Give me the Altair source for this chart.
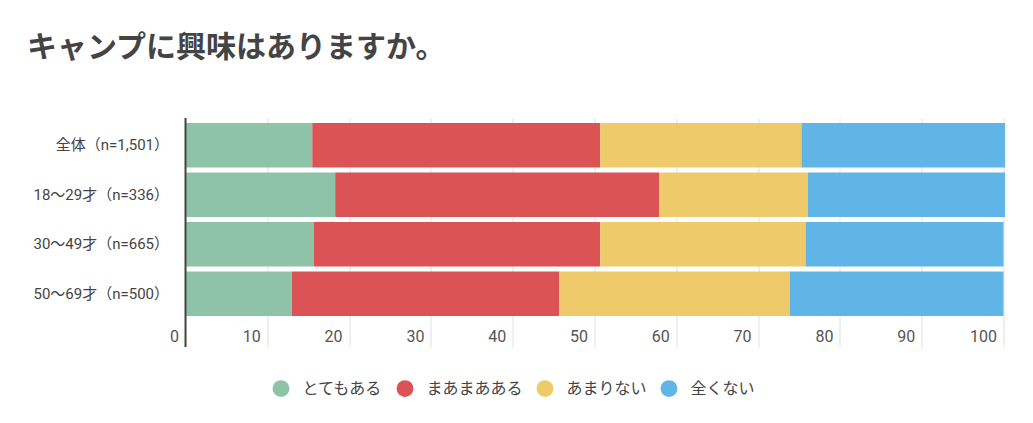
import altair as alt
import pandas as pd

title_text = "キャンプに興味はありますか。"
groups = ["全体（n=1,501）", "18～29才（n=336）", "30～49才（n=665）", "50～69才（n=500）"]
answers = ["とてもある", "まあまあある", "あまりない", "全くない"]
colors = ["#8fc3a8", "#dc5356", "#efca6b", "#5fb5e5"]

totemo = [15.5, 18.3, 15.7, 13.0]
maamaa = [35.2, 39.6, 35.0, 32.7]
amari = [24.6, 18.2, 25.1, 28.2]
mattaku = [24.9, 24.1, 24.2, 26.1]
ticks = [0, 10, 20, 30, 40, 50, 60, 70, 80, 90, 100]

series = [totemo, maamaa, amari, mattaku]
rows = []
for ai, (ans, vals) in enumerate(zip(answers, series)):
    for g, v in zip(groups, vals):
        rows.append({"group": g, "answer": ans, "value": v, "idx": ai})
df = pd.DataFrame(rows)

FONT = "Roboto, 'Noto Sans CJK JP'"
GRID = "#e0e0e0"

bars = alt.Chart(df).mark_bar().encode(
    x=alt.X(
        "value:Q",
        stack="zero",
        scale=alt.Scale(domain=[0, 100], nice=False),
        axis=alt.Axis(
            values=ticks, grid=True, gridColor=GRID, tickColor=GRID, tickSize=26,
            domain=False, labelAlign="right", labelOffset=-7, labelPadding=-19,
            labelFontSize=16, labelColor="#555", labelFont=FONT, title=None,
        ),
    ),
    y=alt.Y(
        "group:N",
        sort=groups,
        scale=alt.Scale(paddingInner=0.1, paddingOuter=0.1),
        axis=alt.Axis(
            ticks=False, domain=False, labelPadding=17, labelFontSize=15,
            labelColor="#444", labelFont=FONT, title=None, labelLimit=300,
        ),
    ),
    color=alt.Color(
        "answer:N",
        sort=answers,
        scale=alt.Scale(domain=answers, range=colors),
        legend=alt.Legend(
            orient="none", legendX=87, legendY=262, direction="horizontal",
            title=None, symbolType="circle", symbolSize=283, symbolStrokeWidth=0,
            labelFontSize=16, labelColor="#444", labelFont=FONT,
            columnPadding=13, labelOffset=13,
        ),
    ),
    order=alt.Order("idx:Q"),
)

zero = pd.DataFrame({"value": [0]})
rule = alt.Chart(zero).mark_rule(color="#444", strokeWidth=2).encode(
    x="value:Q", y=alt.value(0), y2=alt.value(229)
)

chart = alt.layer(bars, rule).properties(
    width=818,
    height=203,
    padding={"left": 177.5, "top": 110, "right": 10, "bottom": 95},
    autosize=alt.AutoSizeParams(type="none"),
    title=alt.TitleParams(
        text=title_text, anchor="start", frame="group", dx=-158.5, offset=54,
        fontSize=30, font="'Noto Sans CJK JP'", fontWeight="bold", color="#444",
    ),
).configure_view(stroke=None)

chart.save("out.html", embed_options={"renderer": "svg", "actions": False})
